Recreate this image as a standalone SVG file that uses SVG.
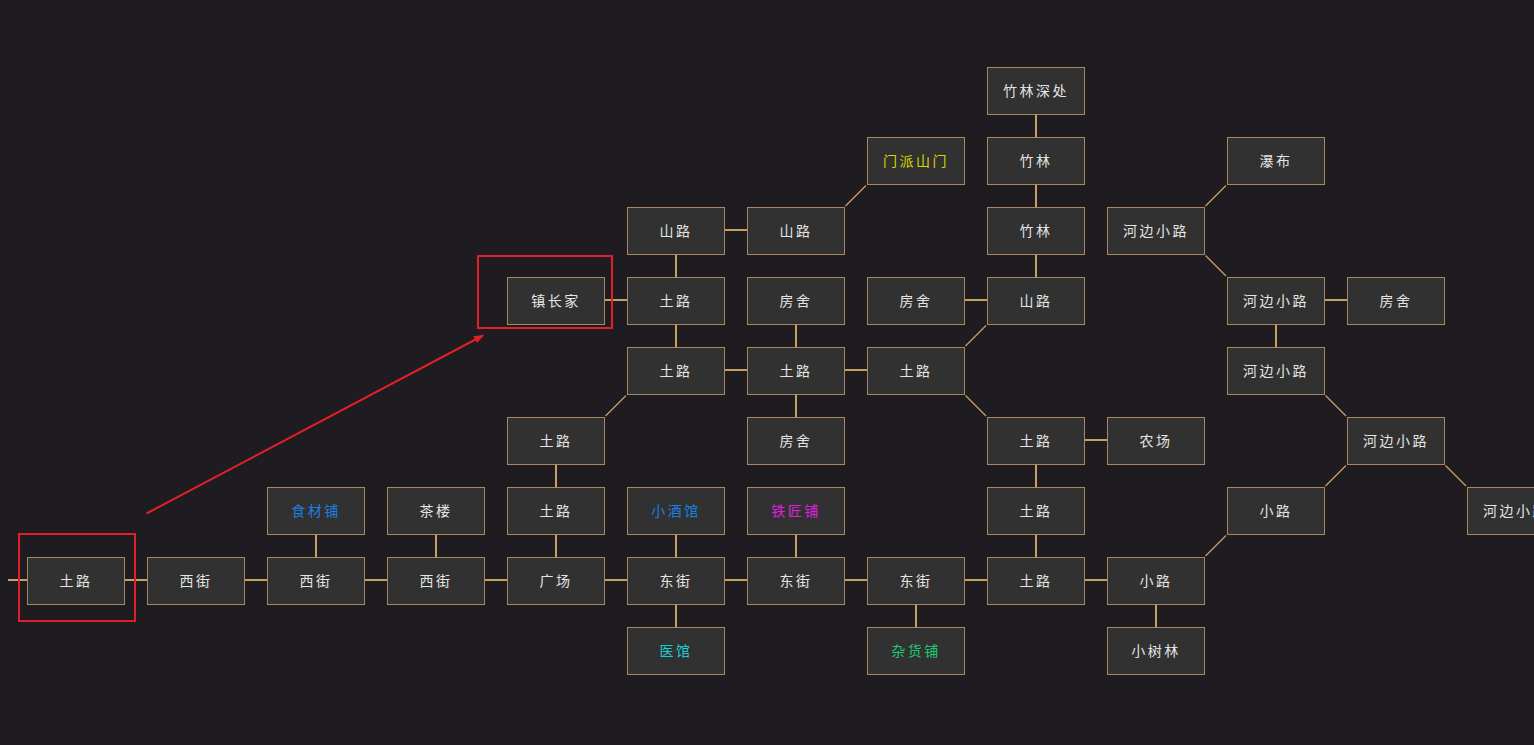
<svg xmlns="http://www.w3.org/2000/svg" width="1534" height="745" viewBox="0 0 1534 745">
<style>
.bg{fill:#1f1c21}
.n rect{fill:#313131;stroke:#a8895c;stroke-width:1}
.n text{font-family:"Noto Sans CJK SC","Noto Sans",sans-serif;font-size:14px;letter-spacing:2.5px;fill:#e4e4e4;text-anchor:middle}
.h{stroke:#c9a064;stroke-width:2;fill:none}
.d{stroke:#c9a064;stroke-width:1.2;fill:none}
.hl{fill:none;stroke:#e01f26;stroke-width:2}
.yel{fill:#d6d600 !important}
.blu{fill:#1b7fe0 !important}
.mag{fill:#e01ee0 !important}
.cya{fill:#1ccdd0 !important}
.grn{fill:#22c872 !important}
</style>
<defs>
<marker id="arr" viewBox="0 0 10 8" refX="9" refY="4" markerWidth="10" markerHeight="8" markerUnits="userSpaceOnUse" orient="auto">
<path d="M0,0 L10,4 L0,8 z" fill="#e01f26"/>
</marker>
</defs>
<rect class="bg" x="0" y="0" width="1534" height="745"/>
<g id="connectors">
<line class="h" x1="8" y1="580" x2="27" y2="580"/>
<line class="h" x1="125" y1="580" x2="147" y2="580"/>
<line class="h" x1="245" y1="580" x2="267" y2="580"/>
<line class="h" x1="365" y1="580" x2="387" y2="580"/>
<line class="h" x1="485" y1="580" x2="507" y2="580"/>
<line class="h" x1="605" y1="580" x2="627" y2="580"/>
<line class="h" x1="725" y1="580" x2="747" y2="580"/>
<line class="h" x1="845" y1="580" x2="867" y2="580"/>
<line class="h" x1="965" y1="580" x2="987" y2="580"/>
<line class="h" x1="1085" y1="580" x2="1107" y2="580"/>
<line class="h" x1="725" y1="370" x2="747" y2="370"/>
<line class="h" x1="845" y1="370" x2="867" y2="370"/>
<line class="h" x1="605" y1="300" x2="627" y2="300"/>
<line class="h" x1="965" y1="300" x2="987" y2="300"/>
<line class="h" x1="1325" y1="300" x2="1347" y2="300"/>
<line class="h" x1="725" y1="230" x2="747" y2="230"/>
<line class="h" x1="1085" y1="440" x2="1107" y2="440"/>
<line class="h" x1="316" y1="535" x2="316" y2="557"/>
<line class="h" x1="436" y1="535" x2="436" y2="557"/>
<line class="h" x1="556" y1="535" x2="556" y2="557"/>
<line class="h" x1="676" y1="535" x2="676" y2="557"/>
<line class="h" x1="796" y1="535" x2="796" y2="557"/>
<line class="h" x1="1036" y1="535" x2="1036" y2="557"/>
<line class="h" x1="676" y1="605" x2="676" y2="627"/>
<line class="h" x1="916" y1="605" x2="916" y2="627"/>
<line class="h" x1="1156" y1="605" x2="1156" y2="627"/>
<line class="h" x1="556" y1="465" x2="556" y2="487"/>
<line class="h" x1="1036" y1="465" x2="1036" y2="487"/>
<line class="h" x1="796" y1="395" x2="796" y2="417"/>
<line class="h" x1="676" y1="325" x2="676" y2="347"/>
<line class="h" x1="796" y1="325" x2="796" y2="347"/>
<line class="h" x1="676" y1="255" x2="676" y2="277"/>
<line class="h" x1="1036" y1="255" x2="1036" y2="277"/>
<line class="h" x1="1036" y1="185" x2="1036" y2="207"/>
<line class="h" x1="1036" y1="115" x2="1036" y2="137"/>
<line class="h" x1="1276" y1="325" x2="1276" y2="347"/>
<line class="d" x1="605.5" y1="416" x2="626" y2="395.5"/>
<line class="d" x1="845.5" y1="206" x2="866" y2="185.5"/>
<line class="d" x1="965.5" y1="346" x2="986" y2="325.5"/>
<line class="d" x1="1205.5" y1="556" x2="1226" y2="535.5"/>
<line class="d" x1="1325.5" y1="486" x2="1346" y2="465.5"/>
<line class="d" x1="1205.5" y1="206" x2="1226" y2="185.5"/>
<line class="d" x1="965.5" y1="395.5" x2="986" y2="416"/>
<line class="d" x1="1205.5" y1="255.5" x2="1226" y2="276"/>
<line class="d" x1="1325.5" y1="395.5" x2="1346" y2="416"/>
<line class="d" x1="1445.5" y1="465.5" x2="1466" y2="486"/>
</g>
<g id="n-zhulinshenchu" class="n"><rect x="987.5" y="67.5" width="97" height="47"/><text x="1036" y="96">竹林深处</text></g>
<g id="n-menpai" class="n"><rect x="867.5" y="137.5" width="97" height="47"/><text class="yel" x="916" y="166">门派山门</text></g>
<g id="n-zhulin1" class="n"><rect x="987.5" y="137.5" width="97" height="47"/><text x="1036" y="166">竹林</text></g>
<g id="n-pubu" class="n"><rect x="1227.5" y="137.5" width="97" height="47"/><text x="1276" y="166">瀑布</text></g>
<g id="n-shanlu1" class="n"><rect x="627.5" y="207.5" width="97" height="47"/><text x="676" y="236">山路</text></g>
<g id="n-shanlu2" class="n"><rect x="747.5" y="207.5" width="97" height="47"/><text x="796" y="236">山路</text></g>
<g id="n-zhulin2" class="n"><rect x="987.5" y="207.5" width="97" height="47"/><text x="1036" y="236">竹林</text></g>
<g id="n-hebian1" class="n"><rect x="1107.5" y="207.5" width="97" height="47"/><text x="1156" y="236">河边小路</text></g>
<g id="n-zhenzhang" class="n"><rect x="507.5" y="277.5" width="97" height="47"/><text x="556" y="306">镇长家</text></g>
<g id="n-tulu-r3" class="n"><rect x="627.5" y="277.5" width="97" height="47"/><text x="676" y="306">土路</text></g>
<g id="n-fangshe1" class="n"><rect x="747.5" y="277.5" width="97" height="47"/><text x="796" y="306">房舍</text></g>
<g id="n-fangshe2" class="n"><rect x="867.5" y="277.5" width="97" height="47"/><text x="916" y="306">房舍</text></g>
<g id="n-shanlu3" class="n"><rect x="987.5" y="277.5" width="97" height="47"/><text x="1036" y="306">山路</text></g>
<g id="n-hebian2" class="n"><rect x="1227.5" y="277.5" width="97" height="47"/><text x="1276" y="306">河边小路</text></g>
<g id="n-fangshe3" class="n"><rect x="1347.5" y="277.5" width="97" height="47"/><text x="1396" y="306">房舍</text></g>
<g id="n-tulu-r4a" class="n"><rect x="627.5" y="347.5" width="97" height="47"/><text x="676" y="376">土路</text></g>
<g id="n-tulu-r4b" class="n"><rect x="747.5" y="347.5" width="97" height="47"/><text x="796" y="376">土路</text></g>
<g id="n-tulu-r4c" class="n"><rect x="867.5" y="347.5" width="97" height="47"/><text x="916" y="376">土路</text></g>
<g id="n-hebian3" class="n"><rect x="1227.5" y="347.5" width="97" height="47"/><text x="1276" y="376">河边小路</text></g>
<g id="n-tulu-r5a" class="n"><rect x="507.5" y="417.5" width="97" height="47"/><text x="556" y="446">土路</text></g>
<g id="n-fangshe4" class="n"><rect x="747.5" y="417.5" width="97" height="47"/><text x="796" y="446">房舍</text></g>
<g id="n-tulu-r5b" class="n"><rect x="987.5" y="417.5" width="97" height="47"/><text x="1036" y="446">土路</text></g>
<g id="n-nongchang" class="n"><rect x="1107.5" y="417.5" width="97" height="47"/><text x="1156" y="446">农场</text></g>
<g id="n-hebian4" class="n"><rect x="1347.5" y="417.5" width="97" height="47"/><text x="1396" y="446">河边小路</text></g>
<g id="n-shicai" class="n"><rect x="267.5" y="487.5" width="97" height="47"/><text class="blu" x="316" y="516">食材铺</text></g>
<g id="n-chalou" class="n"><rect x="387.5" y="487.5" width="97" height="47"/><text x="436" y="516">茶楼</text></g>
<g id="n-tulu-r6a" class="n"><rect x="507.5" y="487.5" width="97" height="47"/><text x="556" y="516">土路</text></g>
<g id="n-jiuguan" class="n"><rect x="627.5" y="487.5" width="97" height="47"/><text class="blu" x="676" y="516">小酒馆</text></g>
<g id="n-tiejiang" class="n"><rect x="747.5" y="487.5" width="97" height="47"/><text class="mag" x="796" y="516">铁匠铺</text></g>
<g id="n-tulu-r6b" class="n"><rect x="987.5" y="487.5" width="97" height="47"/><text x="1036" y="516">土路</text></g>
<g id="n-xiaolu1" class="n"><rect x="1227.5" y="487.5" width="97" height="47"/><text x="1276" y="516">小路</text></g>
<g id="n-hebian5" class="n"><rect x="1467.5" y="487.5" width="97" height="47"/><text x="1516" y="516">河边小路</text></g>
<g id="n-tulu-start" class="n"><rect x="27.5" y="557.5" width="97" height="47"/><text x="76" y="586">土路</text></g>
<g id="n-xijie1" class="n"><rect x="147.5" y="557.5" width="97" height="47"/><text x="196" y="586">西街</text></g>
<g id="n-xijie2" class="n"><rect x="267.5" y="557.5" width="97" height="47"/><text x="316" y="586">西街</text></g>
<g id="n-xijie3" class="n"><rect x="387.5" y="557.5" width="97" height="47"/><text x="436" y="586">西街</text></g>
<g id="n-guangchang" class="n"><rect x="507.5" y="557.5" width="97" height="47"/><text x="556" y="586">广场</text></g>
<g id="n-dongjie1" class="n"><rect x="627.5" y="557.5" width="97" height="47"/><text x="676" y="586">东街</text></g>
<g id="n-dongjie2" class="n"><rect x="747.5" y="557.5" width="97" height="47"/><text x="796" y="586">东街</text></g>
<g id="n-dongjie3" class="n"><rect x="867.5" y="557.5" width="97" height="47"/><text x="916" y="586">东街</text></g>
<g id="n-tulu-r7" class="n"><rect x="987.5" y="557.5" width="97" height="47"/><text x="1036" y="586">土路</text></g>
<g id="n-xiaolu2" class="n"><rect x="1107.5" y="557.5" width="97" height="47"/><text x="1156" y="586">小路</text></g>
<g id="n-yiguan" class="n"><rect x="627.5" y="627.5" width="97" height="47"/><text class="cya" x="676" y="656">医馆</text></g>
<g id="n-zahuo" class="n"><rect x="867.5" y="627.5" width="97" height="47"/><text class="grn" x="916" y="656">杂货铺</text></g>
<g id="n-xiaoshulin" class="n"><rect x="1107.5" y="627.5" width="97" height="47"/><text x="1156" y="656">小树林</text></g>
<g id="annotations">
<rect class="hl" x="19" y="534" width="116" height="87"/>
<rect class="hl" x="478" y="256" width="134" height="72"/>
<line x1="146.5" y1="513.5" x2="483" y2="335.5" stroke="#e01f26" stroke-width="2" marker-end="url(#arr)"/>
</g>
</svg>
